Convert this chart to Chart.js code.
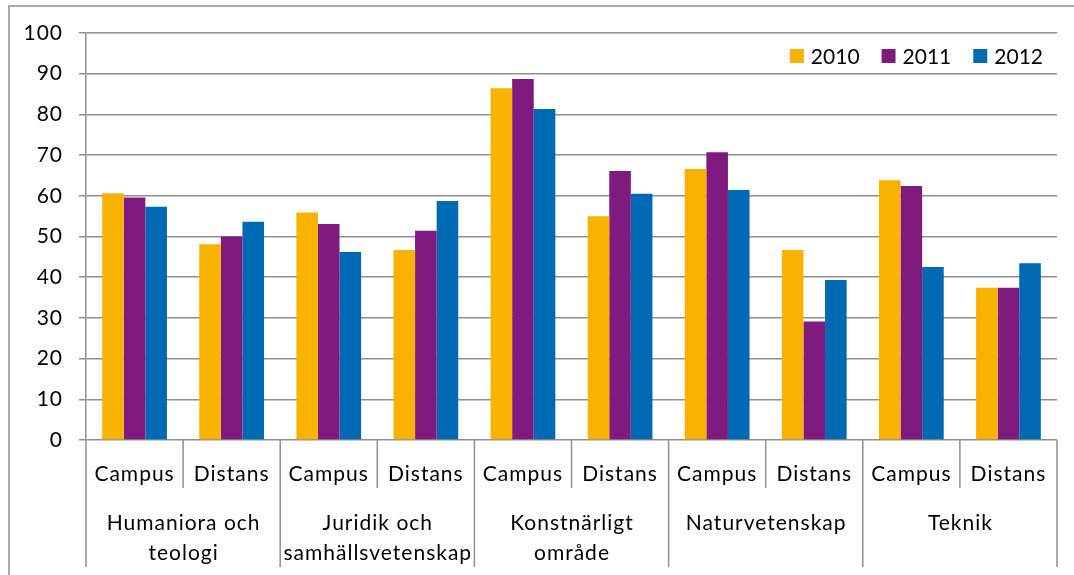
<!DOCTYPE html>
<html>
<head>
<meta charset="utf-8">
<script src="https://cdn.jsdelivr.net/npm/chart.js@4/dist/chart.umd.min.js"></script>
<style>
  html, body { margin: 0; padding: 0; background: #fff; }
  canvas { display: block; }
</style>
</head>
<body>
<canvas id="c" width="1074" height="575"></canvas>
<script>
// ---- data ----
const subCategories = ['Campus', 'Distans', 'Campus', 'Distans', 'Campus', 'Distans', 'Campus', 'Distans', 'Campus', 'Distans'];
const groupLabels = [
  ['Humaniora och', 'teologi'],
  ['Juridik och', 'samhällsvetenskap'],
  ['Konstnärligt', 'område'],
  ['Naturvetenskap'],
  ['Teknik']
];
const seriesNames = ['2010', '2011', '2012'];
const values2010 = [60.6, 48.1, 55.9, 46.7, 86.4, 55.0, 66.6, 46.7, 63.8, 37.4];
const values2011 = [59.6, 50.0, 53.1, 51.4, 88.7, 66.1, 70.7, 29.1, 62.4, 37.4];
const values2012 = [57.3, 53.6, 46.2, 58.7, 81.3, 60.5, 61.4, 39.3, 42.5, 43.4];
const yMin = 0, yMax = 100, yStep = 10;

// ---- styles ----
const colors = ['#F9B200', '#7F1B7E', '#0069B3'];
const FONT = 'Lato, "Open Sans", sans-serif';
const FS = 21;
const SPACING = '1px';
const lineColor = '#8f8f8f';

const decorPlugin = {
  id: 'decor',
  beforeDraw(chart) {
    const ctx = chart.ctx;
    ctx.save();
    ctx.strokeStyle = lineColor;
    ctx.lineWidth = 1.5;
    ctx.strokeRect(9, 6, 1100, 600);
    ctx.restore();
    ctx.letterSpacing = SPACING;
  },
  afterDraw(chart) {
    const ctx = chart.ctx;
    const xs = chart.scales.x;
    const area = chart.chartArea;
    const n = subCategories.length;
    const step = (area.right - area.left) / n;
    ctx.save();
    ctx.letterSpacing = SPACING;
    // separators under the category axis
    ctx.strokeStyle = lineColor;
    ctx.lineWidth = 1.5;
    for (let k = 0; k <= n; k++) {
      const x = (k < n ? xs.getPixelForValue(k) - step / 2 : xs.getPixelForValue(n - 1) + step / 2);
      const yEnd = (k % 2 === 0) ? 567 : 488;
      ctx.beginPath();
      ctx.moveTo(x, area.bottom);
      ctx.lineTo(x, yEnd);
      ctx.stroke();
    }
    // group labels
    ctx.fillStyle = '#000';
    ctx.font = FS + 'px ' + FONT;
    ctx.textAlign = 'center';
    ctx.textBaseline = 'middle';
    groupLabels.forEach((lines, g) => {
      const x = (xs.getPixelForValue(2 * g) + xs.getPixelForValue(2 * g + 1)) / 2;
      lines.forEach((t, i) => ctx.fillText(t, x + 0.5, 523 + i * 30));
    });
    // legend
    ctx.letterSpacing = '0px';
    ctx.textAlign = 'left';
    const sq = 14, gapSqText = 7, gapItems = 22;
    const widths = chart.data.datasets.map(d => ctx.measureText(d.label).width);
    let total = 0;
    widths.forEach((w, i) => { total += sq + gapSqText + w + (i < widths.length - 1 ? gapItems : 0); });
    let x = 1043 - total;
    const cy = 56;
    chart.data.datasets.forEach((d, i) => {
      ctx.fillStyle = d.backgroundColor;
      ctx.fillRect(x, cy - sq / 2, sq, sq);
      x += sq + gapSqText;
      ctx.fillStyle = '#000';
      ctx.fillText(d.label, x, cy + 1);
      x += widths[i] + gapItems;
    });
    ctx.restore();
  }
};

new Chart(document.getElementById('c'), {
  type: 'bar',
  data: {
    labels: subCategories,
    datasets: [
      { label: seriesNames[0], data: values2010, backgroundColor: colors[0] },
      { label: seriesNames[1], data: values2011, backgroundColor: colors[1] },
      { label: seriesNames[2], data: values2012, backgroundColor: colors[2] }
    ]
  },
  options: {
    responsive: false,
    devicePixelRatio: 1,
    animation: false,
    layout: { padding: { top: 33, right: 17, left: 0, bottom: 0 } },
    plugins: { legend: { display: false }, tooltip: { enabled: false } },
    datasets: { bar: { categoryPercentage: 0.667, barPercentage: 1.0 } },
    scales: {
      x: {
        grid: { display: false, drawTicks: false },
        border: { display: false },
        ticks: { font: { family: FONT, size: FS }, color: '#000', padding: 22, maxRotation: 0, autoSkip: false },
        afterFit(scale) { scale.height = 135; }
      },
      y: {
        min: yMin, max: yMax,
        ticks: { stepSize: yStep, font: { family: FONT, size: FS }, color: '#000', padding: 16 },
        grid: { color: lineColor, lineWidth: 1.5, tickLength: 7, drawTicks: true },
        border: { color: lineColor, width: 1.5 },
        afterFit(scale) { scale.width = 86; }
      }
    }
  },
  plugins: [decorPlugin]
});
</script>
</body>
</html>
